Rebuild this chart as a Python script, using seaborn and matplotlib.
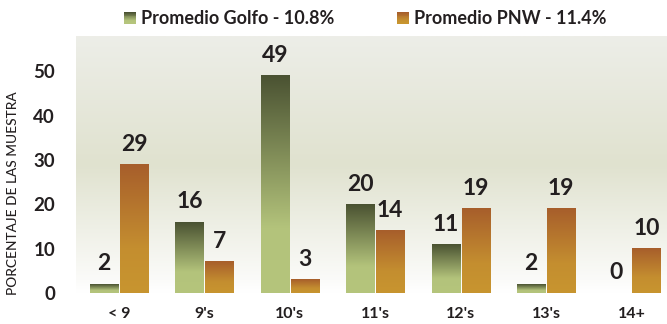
import numpy as np
import pandas as pd
import matplotlib
matplotlib.use("Agg")
import matplotlib.pyplot as plt
from matplotlib.colors import LinearSegmentedColormap
from matplotlib.legend_handler import HandlerBase
from matplotlib.patches import Rectangle, Patch
import seaborn as sns

categories = ["< 9", "9's", "10's", "11's", "12's", "13's", "14+"]
golfo = [2, 16, 49, 20, 11, 2, 0]
pnw = [29, 7, 3, 14, 19, 19, 10]
series_names = ["Promedio Golfo - 10.8%", "Promedio PNW - 11.4%"]
ylabel = "PORCENTAJE DE LAS MUESTRA"
yticks = [0, 10, 20, 30, 40, 50]

df = pd.DataFrame({
    "cat": categories * 2,
    "serie": [series_names[0]] * len(categories) + [series_names[1]] * len(categories),
    "val": golfo + pnw,
})

sns.set_theme(style="white")
plt.rcParams["font.family"] = ["Lato", "DejaVu Sans"]
TXT = "#231f20"

grad_cols = {
    series_names[0]: [(0.0, "#b5c57c"), (0.3, "#b3c37b"), (1.0, "#4a5232")],
    series_names[1]: [(0.0, "#c8952f"), (0.35, "#c48e30"), (1.0, "#a75e2b")],
}
cmaps = {k: LinearSegmentedColormap.from_list(k, v) for k, v in grad_cols.items()}

fig = plt.figure(figsize=(6.67, 3.24), dpi=100)
ax = fig.add_axes([76 / 667, 31 / 324, 591 / 667, 257 / 324])

sns.barplot(data=df, x="cat", y="val", hue="serie", hue_order=series_names,
            order=categories, width=0.703, gap=0.067, ax=ax, legend=False,
            palette=["#7a8a55", "#b87a2e"], saturation=1)

ylim = (0, 58.0)
xlim = (-0.503, 6.416)

# background gradient
bg = LinearSegmentedColormap.from_list("bg", [(0.0, "#ffffff"), (0.05, "#fbfbf9"),
                                              (0.5, "#e0e2cf"), (1.0, "#edeee8")])
grad = np.linspace(0, 1, 256).reshape(-1, 1)
ax.imshow(grad, cmap=bg, origin="lower", aspect="auto",
          extent=[xlim[0], xlim[1], ylim[0], ylim[1]], zorder=0)

# gradient bars
for container, name in zip(ax.containers, series_names):
    for bar in container:
        x0 = bar.get_x()
        w = bar.get_width()
        h = bar.get_height()
        bar.set_visible(False)
        if h <= 0:
            continue
        ax.imshow(grad, cmap=cmaps[name], origin="lower", aspect="auto",
                  extent=[x0, x0 + w, 0, h], zorder=2)
    ax.bar_label(container, padding=7, fontsize=16.5, fontweight="bold", color=TXT)

ax.set_xlim(*xlim)
ax.set_ylim(*ylim)
ax.set_yticks(yticks)
for s in ax.spines.values():
    s.set_visible(False)
ax.tick_params(axis="both", length=0)
ax.tick_params(axis="y", pad=15, labelsize=13.5, labelcolor=TXT)
ax.tick_params(axis="x", pad=10, labelsize=11.5, labelcolor=TXT)
for t in ax.get_yticklabels() + ax.get_xticklabels():
    t.set_fontweight("bold")
ax.set_xlabel("")
ax.set_ylabel(ylabel, fontsize=9.8, color=TXT, fontweight="medium")
ax.yaxis.set_label_coords(-0.096, 0.39)


class GradHandler(HandlerBase):
    def __init__(self, cmap):
        super().__init__()
        self.cmap = cmap

    def create_artists(self, legend, orig_handle, xdescent, ydescent, width,
                       height, fontsize, trans):
        n = 14
        side = height
        x = -xdescent + (width - side) / 2
        y = -ydescent
        arts = []
        for i in range(n):
            r = Rectangle((x, y + side * i / n), side, side / n + 0.05,
                          facecolor=self.cmap(i / (n - 1)), edgecolor="none",
                          transform=trans)
            arts.append(r)
        return arts


handles = [Patch(label=n) for n in series_names]
leg = fig.legend(handles=handles, labels=series_names, loc="center",
                 bbox_to_anchor=(365.5 / 667, 1 - 19 / 324), ncol=2, frameon=False,
                 handler_map={h: GradHandler(cmaps[n]) for h, n in zip(handles, series_names)},
                 handlelength=0.62, handleheight=0.62, handletextpad=0.3,
                 columnspacing=3.5, prop={"size": 13.0, "weight": "bold"})
for t in leg.get_texts():
    t.set_color(TXT)

fig.savefig("out.png", dpi=100)
